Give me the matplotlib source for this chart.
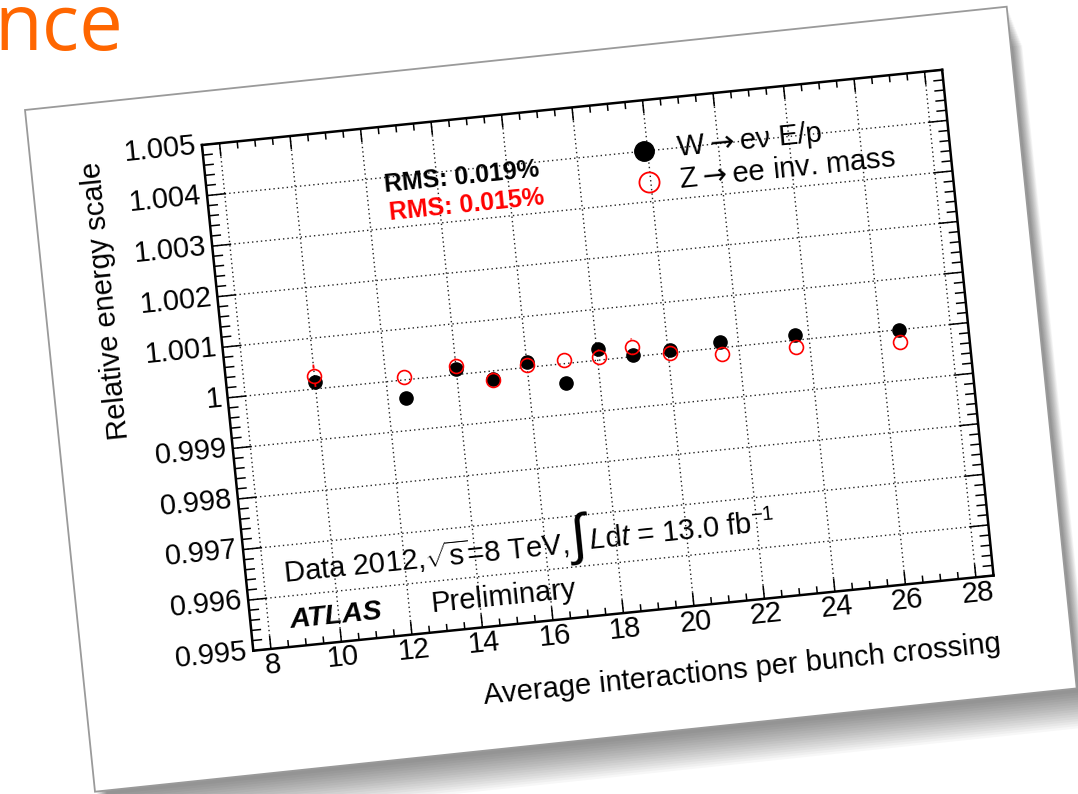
import numpy as np
import matplotlib
matplotlib.use("Agg")
import matplotlib.pyplot as plt
from matplotlib.patches import Polygon
from matplotlib.transforms import Affine2D
from mpl_toolkits.axisartist import floating_axes
from mpl_toolkits.axisartist.grid_finder import FixedLocator

# values
mu = [10.0, 12.5, 14.0, 15.0, 16.0, 17.05, 18.05, 19.0, 20.05, 21.5, 23.6, 26.55]
w_ep = [1.00014, 0.99964, 1.00012, 0.99985, 1.00011, 0.99961,
        1.00021, 1.00003, 1.00006, 1.00012, 1.00010, 0.99999]
w_ep_err = [0.00009, 0.00008, 0.00008, 0.00008, 0.00008, 0.00008,
            0.00008, 0.00008, 0.00008, 0.00008, 0.00008, 0.00009]
z_mass = [1.00026, 1.00005, 1.00017, 0.99982, 1.00005, 1.00007,
          1.00006, 1.00020, 0.99999, 0.99987, 0.99986, 0.99976]
z_mass_err = [0.00022, 0.00012, 0.00015, 0.00015, 0.00013, 0.00014,
              0.00015, 0.00016, 0.00015, 0.00012, 0.00010, 0.00010]

x_ticks = [8, 10, 12, 14, 16, 18, 20, 22, 24, 26, 28]
y_ticks = [0.995, 0.996, 0.997, 0.998, 0.999, 1.0,
           1.001, 1.002, 1.003, 1.004, 1.005]
x_range = (7.5, 28.5)
y_range = (0.995, 1.005)

plt.rcParams['font.family'] = ['Liberation Sans', 'DejaVu Sans']
plt.rcParams['mathtext.fontset'] = 'custom'
plt.rcParams['mathtext.rm'] = 'Liberation Sans'
plt.rcParams['mathtext.it'] = 'Liberation Sans:italic'
plt.rcParams['mathtext.bf'] = 'Liberation Sans:bold'

W, H = 1078, 794
fig = plt.figure(figsize=(W / 100, H / 100), dpi=100)

# slide background: paper card with shadow + cut title
bg = fig.add_axes([0, 0, 1, 1])
bg.set_xlim(0, W)
bg.set_ylim(H, 0)
bg.axis('off')

paper = np.array([[25, 110], [1006.7, 6.7], [1076.7, 688.4], [95, 791.7]])
for i in range(16):
    off = np.array([2 + i * 0.9, 4 + i * 2.3])
    bg.add_patch(Polygon(paper + off, closed=True, fc='black', ec='none', alpha=0.032))
bg.add_patch(Polygon(paper, closed=True, fc='white', ec='#9a9a9a', lw=1.3))

bg.text(-6, 50, 'nce', ha='left', va='baseline', fontsize=56,
        family='Open Sans', color='#ff6600')

# rotated ROOT-style plot
ang = 5.8
tr = Affine2D().translate(-x_range[0], -y_range[0]).scale(35.43, 50830).rotate_deg(ang)
corners = tr.transform([[x_range[0], y_range[0]], [x_range[1], y_range[0]],
                        [x_range[1], y_range[1]], [x_range[0], y_range[1]]])
x0, y0 = corners.min(0)
x1, y1 = corners.max(0)
cx, cy = (x0 + x1) / 2, (y0 + y1) / 2
w, h = (x1 - x0) * 1.02, (y1 - y0) * 1.02
left = 253.3 + cx - w / 2
bottom = (H - 650.7) + cy - h / 2


def fmt(direction, factor, values):
    return ['%g' % v for v in values]


grid_helper = floating_axes.GridHelperCurveLinear(
    tr, extremes=(x_range[0], x_range[1], y_range[0], y_range[1]),
    grid_locator1=FixedLocator(x_ticks), grid_locator2=FixedLocator(y_ticks),
    tick_formatter1=fmt, tick_formatter2=fmt)
ax = fig.add_axes([left / W, bottom / H, w / W, h / H],
                  axes_class=floating_axes.FloatingAxes, grid_helper=grid_helper)
aux = ax.get_aux_axes(tr)

ax.grid(True, linestyle=(0, (1, 2.2)), color='#222222', linewidth=1.0)
for side in ['left', 'right', 'top', 'bottom']:
    ax.axis[side].major_ticks.set_visible(False)
    ax.axis[side].line.set_linewidth(1.8)
for side in ['right', 'top']:
    ax.axis[side].major_ticklabels.set_visible(False)
for side in ['left', 'bottom']:
    ax.axis[side].major_ticklabels.set_fontsize(21)
ax.axis['left'].major_ticklabels.set_pad(4)
ax.axis['bottom'].major_ticklabels.set_pad(3)

# inward ticks on all four sides
xs, ys = [], []
for x in np.arange(x_range[0], x_range[1] + 0.01, 0.5):
    L = 0.00026 if abs(x / 2 - round(x / 2)) < 1e-6 else 0.00014
    xs += [x, x, np.nan, x, x, np.nan]
    ys += [y_range[0], y_range[0] + L, np.nan, y_range[1], y_range[1] - L, np.nan]
for k in range(51):
    y = y_range[0] + k * 0.0002
    L = 0.53 if k % 5 == 0 else 0.28
    xs += [x_range[0], x_range[0] + L, np.nan, x_range[1], x_range[1] - L, np.nan]
    ys += [y, y, np.nan, y, y, np.nan]
aux.plot(xs, ys, color='black', lw=1.1, solid_capstyle='butt', zorder=2)

# data
aux.errorbar(mu, w_ep, yerr=w_ep_err, fmt='o', color='black', ms=9.5,
             elinewidth=1.2, capsize=0, zorder=3)
z = np.array(z_mass)
ze = np.array(z_mass_err)
rad = 0.00014
aux.vlines(mu, z + rad, z + np.maximum(ze, rad), color='red', lw=1.3, zorder=4)
aux.vlines(mu, z - np.maximum(ze, rad), z - rad, color='red', lw=1.3, zorder=4)
aux.plot(mu, z_mass, 'o', mfc='none', mec='red', mew=1.2, ms=10, zorder=4)

# legend
aux.plot([19.9], [1.00401], 'o', color='black', ms=14)
aux.plot([19.95], [1.00338], 'o', mfc='none', mec='red', mew=1.3, ms=14.5)
tk = dict(rotation=ang, rotation_mode='anchor', ha='left', va='baseline')
aux.text(20.80, 1.00384, 'W$\\rightarrow$e\u03bd E/p', fontsize=21,
         math_fontfamily='dejavusans', **tk)
aux.text(20.80, 1.00320, 'Z$\\rightarrow$ee inv. mass', fontsize=21,
         math_fontfamily='dejavusans', **tk)

aux.text(12.51, 1.00372, 'RMS: 0.019%', fontsize=18, weight='bold', **tk)
aux.text(12.57, 1.00316, 'RMS: 0.015%', fontsize=18, weight='bold', color='red', **tk)

aux.text(8.58, 0.99627, r'Data 2012,$\sqrt{\mathrm{s}}$=8 TeV,', fontsize=21, **tk)
aux.text(16.95, 0.99656, '\u222b', fontsize=40, rotation=ang,
         rotation_mode='anchor', ha='center', va='center')
aux.text(17.24, 0.9963, r'$L\mathrm{d}t$ = 13.0 fb$^{\mathrm{-1}}$', fontsize=21, **tk)
aux.text(8.6, 0.99538, 'ATLAS', fontsize=20.5, weight='bold', style='italic', **tk)
aux.text(12.62, 0.99540, 'Preliminary', fontsize=21, **tk)

# axis titles
aux.text(28.5, 0.9935, 'Average interactions per bunch crossing', fontsize=21,
         rotation=ang, rotation_mode='anchor', ha='right', va='baseline')
aux.text(4.35, 1.00215, 'Relative energy scale', fontsize=21,
         rotation=90 + ang, rotation_mode='anchor', ha='center', va='center')

fig.savefig('out.png', dpi=100)
